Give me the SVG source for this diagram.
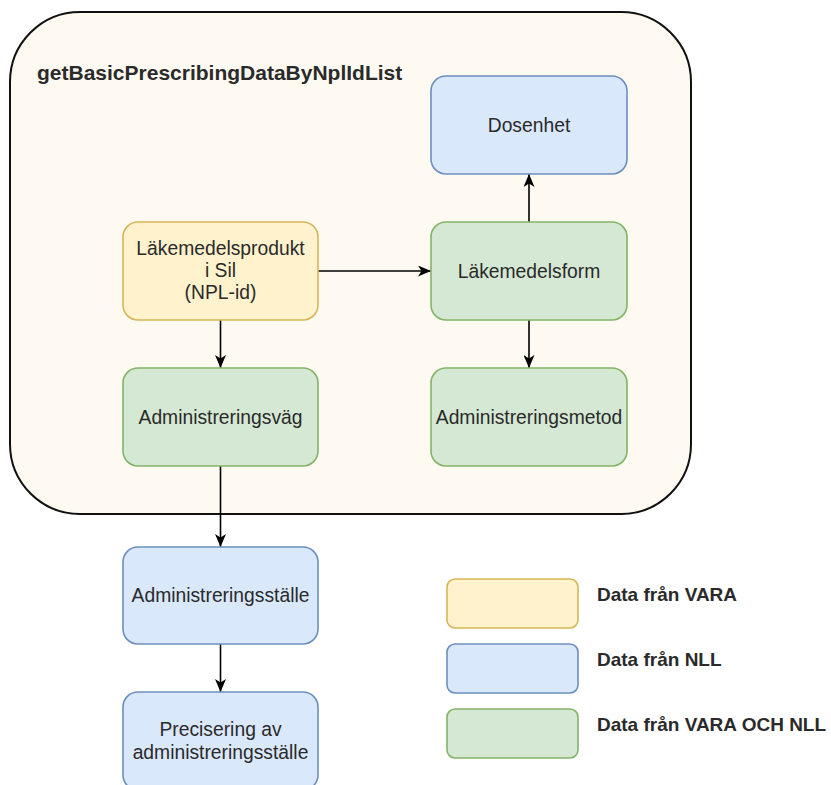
<svg xmlns="http://www.w3.org/2000/svg" width="831" height="785" viewBox="0 0 831 785">
<style>
text{font-family:"Liberation Sans",Arial,sans-serif;fill:#2a2a2a;}
.lbl{font-size:19.3px;text-anchor:middle;}
.leg{font-size:19px;font-weight:bold;}
.title{font-size:21px;font-weight:bold;}
.y{fill:#fff2cc;stroke:#d6b656;stroke-width:1.6;}
.b{fill:#dae8fc;stroke:#6c8ebf;stroke-width:1.6;}
.g{fill:#d5e8d4;stroke:#82b366;stroke-width:1.6;}
.edge{fill:none;stroke:#000;stroke-width:1.6;}
</style>
<defs>
<marker id="arr" viewBox="0 0 13 11" refX="13" refY="5.5" markerWidth="13" markerHeight="11" markerUnits="userSpaceOnUse" orient="auto">
<path d="M0,0 L13,5.5 L0,11 L3.5,5.5 Z" fill="#000"/>
</marker>
</defs>
<g id="container">
<rect x="10" y="12" width="681" height="502" rx="70" ry="70" fill="#fefaf2" stroke="#111" stroke-width="2"/>
<text class="title" x="37" y="80">getBasicPrescribingDataByNplIdList</text>
</g>
<g id="connectors">
<path class="edge" d="M318,271 L431,271" marker-end="url(#arr)"/>
<path class="edge" d="M529,222 L529,174" marker-end="url(#arr)"/>
<path class="edge" d="M529,320 L529,368" marker-end="url(#arr)"/>
<path class="edge" d="M220.5,320 L220.5,368" marker-end="url(#arr)"/>
<path class="edge" d="M220.5,466 L220.5,547" marker-end="url(#arr)"/>
<path class="edge" d="M220.5,644 L220.5,692" marker-end="url(#arr)"/>
</g>
<g id="dosenhet">
<rect class="b" x="431" y="76" width="196" height="98" rx="15"/>
<text class="lbl" x="529" y="132">Dosenhet</text>
</g>
<g id="lakemedelsprodukt">
<rect class="y" x="123" y="222" width="195" height="98" rx="15"/>
<text class="lbl" x="220.5" y="255">Läkemedelsprodukt</text>
<text class="lbl" x="220.5" y="277">i Sil</text>
<text class="lbl" x="220.5" y="299">(NPL-id)</text>
</g>
<g id="lakemedelsform">
<rect class="g" x="431" y="222" width="196" height="98" rx="15"/>
<text class="lbl" x="529" y="278">Läkemedelsform</text>
</g>
<g id="administreringsvag">
<rect class="g" x="123" y="368" width="195" height="98" rx="15"/>
<text class="lbl" x="220.5" y="424">Administreringsväg</text>
</g>
<g id="administreringsmetod">
<rect class="g" x="431" y="368" width="196" height="98" rx="15"/>
<text class="lbl" x="529" y="424">Administreringsmetod</text>
</g>
<g id="administreringsstalle">
<rect class="b" x="123" y="547" width="195" height="97" rx="15"/>
<text class="lbl" x="220.5" y="602">Administreringsställe</text>
</g>
<g id="precisering">
<rect class="b" x="123" y="692" width="195" height="98" rx="15"/>
<text class="lbl" x="220.5" y="736">Precisering av</text>
<text class="lbl" x="220.5" y="759">administreringsställe</text>
</g>
<g id="legend-vara">
<rect class="y" x="447" y="579" width="131" height="49" rx="8"/>
<text class="leg" x="597" y="601">Data från VARA</text>
</g>
<g id="legend-nll">
<rect class="b" x="447" y="644" width="131" height="49" rx="8"/>
<text class="leg" x="597" y="666">Data från NLL</text>
</g>
<g id="legend-both">
<rect class="g" x="447" y="709" width="131" height="49" rx="8"/>
<text class="leg" x="597" y="731">Data från VARA OCH NLL</text>
</g>
</svg>
